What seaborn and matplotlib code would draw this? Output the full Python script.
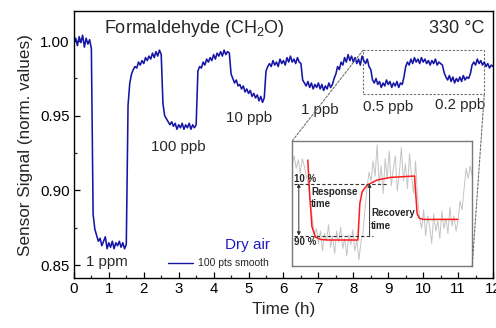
import numpy as np
import pandas as pd
import seaborn as sns
import matplotlib.pyplot as plt
from matplotlib.patches import Rectangle, ConnectionPatch
from matplotlib.lines import Line2D

# sensor signal, one row per hour, sampled every 0.05 h (last value at 12 h)
signal = [
    0.998, 1.002, 0.997, 1.003, 0.999, 1.004, 0.996, 1.002, 0.998, 1.001, 0.995, 0.884, 0.874, 0.870, 0.866, 0.868, 0.863, 0.866, 0.869, 0.861,
    0.865, 0.862, 0.866, 0.861, 0.865, 0.863, 0.866, 0.862, 0.865, 0.861, 0.864, 0.957, 0.972, 0.978, 0.981, 0.983, 0.982, 0.986, 0.984, 0.987,
    0.985, 0.989, 0.987, 0.990, 0.988, 0.992, 0.989, 0.993, 0.990, 0.994, 0.991, 0.958, 0.950, 0.948, 0.946, 0.944, 0.946, 0.943, 0.945, 0.941,
    0.944, 0.942, 0.945, 0.941, 0.944, 0.942, 0.945, 0.941, 0.944, 0.942, 0.944, 0.980, 0.983, 0.982, 0.986, 0.984, 0.988, 0.986, 0.989, 0.987,
    0.991, 0.988, 0.992, 0.990, 0.993, 0.990, 0.994, 0.991, 0.993, 0.992, 0.978, 0.975, 0.972, 0.974, 0.970, 0.971, 0.968, 0.970, 0.966, 0.968,
    0.965, 0.967, 0.963, 0.965, 0.962, 0.964, 0.960, 0.963, 0.959, 0.962, 0.980, 0.983, 0.985, 0.983, 0.987, 0.984, 0.986, 0.983, 0.988, 0.985,
    0.987, 0.984, 0.989, 0.986, 0.990, 0.986, 0.988, 0.985, 0.989, 0.986, 0.985, 0.974, 0.972, 0.970, 0.973, 0.969, 0.972, 0.968, 0.971, 0.969,
    0.972, 0.968, 0.971, 0.967, 0.970, 0.968, 0.972, 0.969, 0.971, 0.975, 0.978, 0.983, 0.981, 0.986, 0.984, 0.989, 0.986, 0.991, 0.987, 0.990,
    0.986, 0.989, 0.985, 0.988, 0.984, 0.990, 0.987, 0.985, 0.988, 0.983, 0.981, 0.974, 0.972, 0.975, 0.971, 0.973, 0.969, 0.972, 0.970, 0.974,
    0.971, 0.973, 0.969, 0.972, 0.970, 0.973, 0.969, 0.972, 0.971, 0.976, 0.983, 0.986, 0.984, 0.988, 0.985, 0.989, 0.986, 0.988, 0.985, 0.989,
    0.986, 0.988, 0.985, 0.987, 0.984, 0.987, 0.985, 0.988, 0.984, 0.986, 0.985, 0.984, 0.979, 0.976, 0.974, 0.977, 0.973, 0.976, 0.972, 0.975,
    0.973, 0.976, 0.973, 0.977, 0.974, 0.976, 0.975, 0.978, 0.984, 0.986, 0.984, 0.988, 0.985, 0.987, 0.984, 0.986, 0.983, 0.985, 0.982, 0.984,
    0.983,
]
time_h = np.linspace(0, 12, len(signal))

conc_labels = ['1 ppm', '100 ppb', '10 ppb', '1 ppb', '0.5 ppb', '0.2 ppb']
conc_x = [0.95, 2.98, 5.01, 7.04, 8.99, 11.05]
conc_y = [0.852, 0.929, 0.9485, 0.9538, 0.9558, 0.9572]

# inset (schematic, normalised units)
inset_raw = [0.82, 0.88, 0.78, 0.85, 0.74, 0.86, 0.80, 0.72, 0.65, 0.52, 0.38, 0.25, 0.30, 0.18, 0.28, 0.12,
             0.26, 0.20, 0.33, 0.15, 0.24, 0.10, 0.28, 0.19, 0.31, 0.14, 0.22, 0.08, 0.25, 0.17, 0.29, 0.12,
             0.21, 0.05, 0.19, 0.26, 0.45, 0.62, 0.75, 0.68, 0.84, 0.72, 0.97, 0.66, 0.80, 0.58, 0.86, 0.70,
             0.92, 0.64, 0.78, 0.88, 0.60, 0.74, 0.95, 0.68, 0.82, 0.62, 0.90, 0.72, 0.58, 0.84, 0.55, 0.38,
             0.30, 0.45, 0.24, 0.40, 0.32, 0.18, 0.42, 0.28, 0.36, 0.22, 0.44, 0.30, 0.38, 0.26, 0.47, 0.32,
             0.40, 0.28, 0.36, 0.52, 0.45, 0.62, 0.78, 0.70, 0.80, 0.72]
inset_raw_x = np.linspace(0, 1, len(inset_raw))
fit_x = [0.087, 0.098, 0.110, 0.130, 0.160, 0.200, 0.365, 0.370, 0.376, 0.389, 0.417, 0.472, 0.546, 0.680,
         0.685, 0.694, 0.707, 0.730, 0.920]
fit_y = [0.848, 0.555, 0.315, 0.230, 0.212, 0.208, 0.208, 0.340, 0.500, 0.595, 0.648, 0.688, 0.709, 0.720,
         0.610, 0.420, 0.381, 0.373, 0.373]
level_10, level_90 = 0.66, 0.243

sns.set_style('ticks')
plt.rcParams['font.family'] = ['Liberation Sans', 'DejaVu Sans']
plt.rcParams['xtick.direction'] = 'in'
plt.rcParams['ytick.direction'] = 'in'

fig = plt.figure(figsize=(4.96, 3.28), dpi=100)
ax = fig.add_axes([0.149, 0.152, 0.845, 0.814])

df = pd.DataFrame({'time': time_h, 'signal': signal})
sns.lineplot(data=df, x='time', y='signal', ax=ax, color='#1515a6', linewidth=1.15)

ax.set_xlim(0, 12)
ax.set_ylim(0.8413, 1.0201)
ax.set_xticks(range(13))
ax.set_xticks(np.arange(0.5, 12, 1), minor=True)
ax.set_yticks([0.85, 0.90, 0.95, 1.00])
ax.set_yticks([0.875, 0.925, 0.975], minor=True)
ax.set_yticklabels(['0.85', '0.90', '0.95', '1.00'])
ax.tick_params(which='major', length=4.5, width=0.9, labelsize=10.8, colors='black', pad=3)
ax.tick_params(which='minor', length=2.5, width=0.9)
for s in ax.spines.values():
    s.set_linewidth(1.0)
    s.set_color('black')
ax.set_xlabel('Time (h)', fontsize=12.3, labelpad=4)
ax.set_ylabel('Sensor Signal (norm. values)', fontsize=12.3, labelpad=5)

ax.text(0.86, 1.0087, 'Formaldehyde (CH$_\\mathregular{2}$O)', fontsize=13, va='center', ha='left')
ax.text(11.75, 1.0087, '330 °C', fontsize=13, va='center', ha='right')
for lab, x, y in zip(conc_labels, conc_x, conc_y):
    ax.text(x, y, lab, fontsize=10.8, ha='center', va='center')
ax.text(5.61, 0.8635, 'Dry air', fontsize=11, color='#1c1cc4', ha='right', va='center')
leg = ax.legend(handles=[Line2D([], [], color='#1515a6', linewidth=1.0, label='100 pts smooth')],
                loc='center left', bbox_to_anchor=(0.224, 0.056), frameon=False, fontsize=7.5,
                handlelength=2.4, handletextpad=0.5, borderpad=0, borderaxespad=0)

# zoom box and connectors
ax.add_patch(Rectangle((8.28, 0.9645), 3.47, 0.0295, fill=False, edgecolor='#707070',
                       linestyle=(0, (2, 1.5)), linewidth=0.8))

axin = fig.add_axes([0.589, 0.189, 0.363, 0.381])
sns.lineplot(x=inset_raw_x, y=inset_raw, ax=axin, color='#c4c4c4', linewidth=0.7)
sns.lineplot(x=fit_x, y=fit_y, ax=axin, color='#ff1a1a', linewidth=1.1, sort=False)
axin.set_xlim(0, 1)
axin.set_ylim(0, 1)
axin.set_xticks([])
axin.set_yticks([])
axin.set_xlabel('')
axin.set_ylabel('')
for s in axin.spines.values():
    s.set_color('#7a7a7a')
    s.set_linewidth(1.0)
axin.hlines(level_10, 0.01, 0.53, colors='#333333', linestyles=(0, (3, 2)), linewidth=0.8)
axin.hlines(level_90, 0.01, 0.45, colors='#333333', linestyles=(0, (3, 2)), linewidth=0.8)
axin.annotate('', xy=(0.037, level_90), xytext=(0.037, level_10),
              arrowprops=dict(arrowstyle='<|-|>', color='#333333', lw=0.7, mutation_scale=5, shrinkA=0, shrinkB=0))
axin.annotate('', xy=(0.43, level_10), xytext=(0.43, level_90),
              arrowprops=dict(arrowstyle='-|>', color='#333333', lw=0.7, mutation_scale=5, shrinkA=0, shrinkB=0))
axin.text(0.01, 0.70, '10 %', fontsize=7, fontweight='bold', va='center')
axin.text(0.01, 0.195, '90 %', fontsize=7, fontweight='bold', va='center')
axin.text(0.105, 0.545, 'Response\ntime', fontsize=7, fontweight='bold', va='center', linespacing=1.35)
axin.text(0.44, 0.375, 'Recovery\ntime', fontsize=7, fontweight='bold', va='center', linespacing=1.35)

for xa, ya, xb, yb in [(8.28, 0.994, 0, 1), (11.75, 0.9645, 1, 0)]:
    con = ConnectionPatch(xyA=(xa, ya), coordsA=ax.transData, xyB=(xb, yb), coordsB=axin.transAxes,
                          color='#707070', linestyle=(0, (2, 1.5)), linewidth=0.8)
    fig.add_artist(con)

fig.savefig('out.png', dpi=100)
